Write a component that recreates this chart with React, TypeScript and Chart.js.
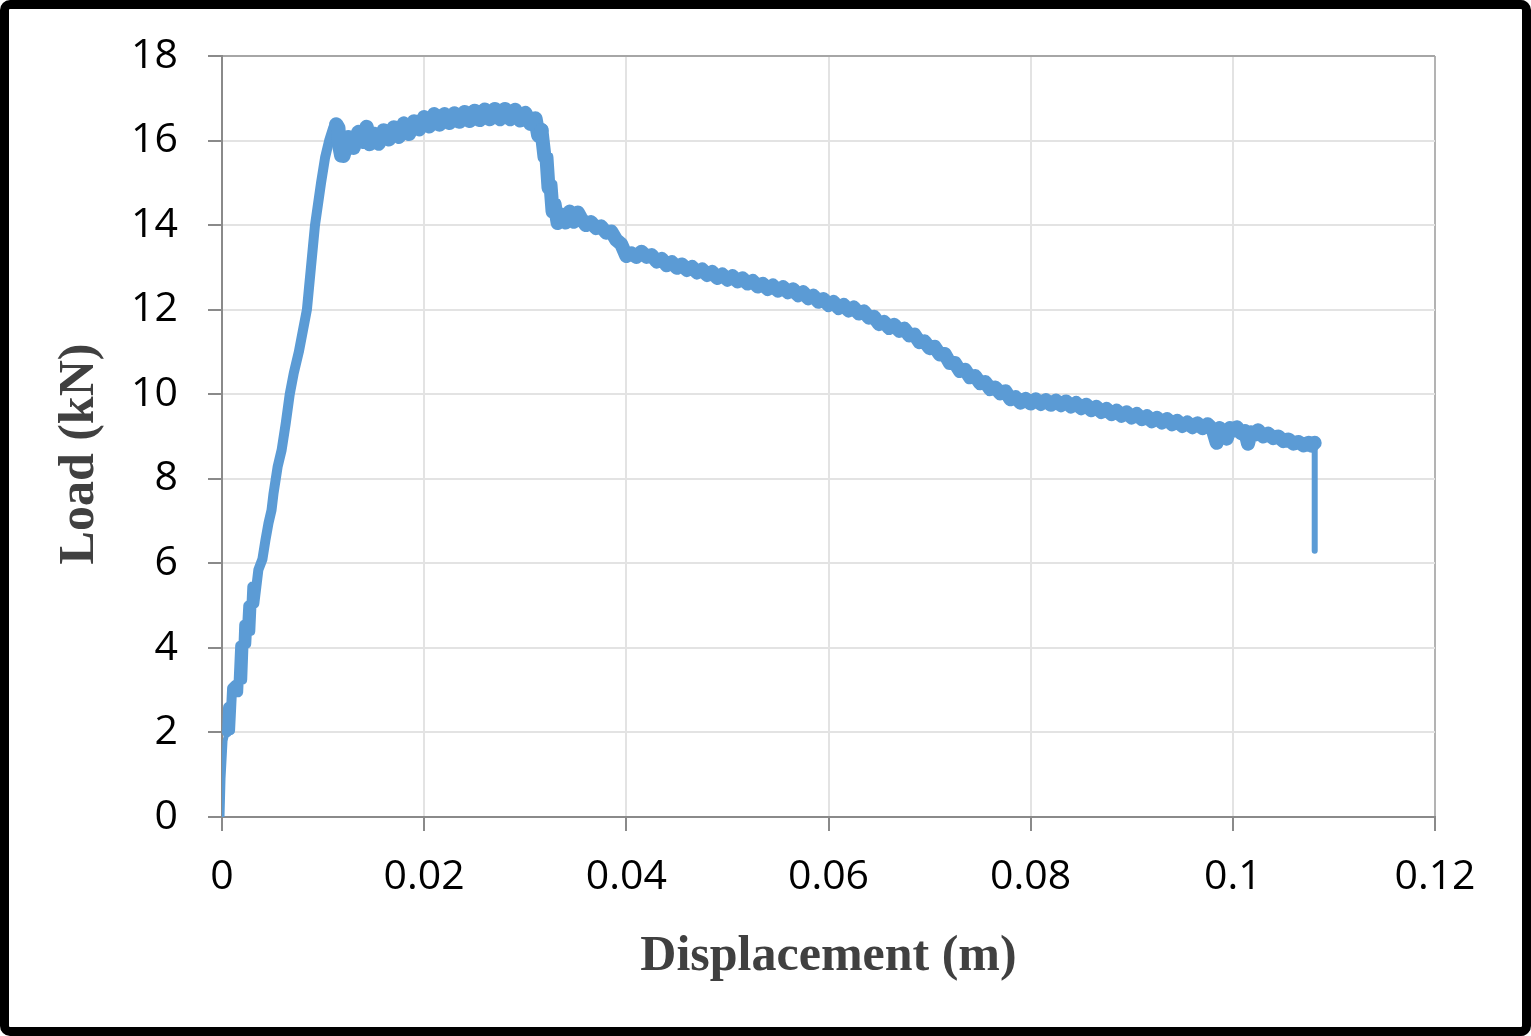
import React, { useEffect, useRef } from "react";
import { Chart, registerables } from "chart.js";

Chart.register(...registerables);

// ---- Data ----
const riseDisp = [
  0, 0.0001, 0.0003, 0.0005, 0.0006, 0.0008, 0.001, 0.0013, 0.0016, 0.0018,
  0.002, 0.0022, 0.0024, 0.0026, 0.0028, 0.003, 0.0032, 0.0036, 0.004, 0.0043,
  0.0046, 0.0049, 0.0051, 0.0055, 0.0059, 0.0063, 0.0067, 0.0071, 0.0076, 0.008,
  0.0084, 0.0086, 0.0088, 0.009, 0.0092, 0.0095, 0.0098, 0.0102, 0.0106, 0.011,
  0.0113, 0.0115, 0.0116, 0.0118,
];
const riseLoad = [
  0, 0.9, 1.8, 2.0, 2.6, 2.05, 3.05, 3.12, 2.95, 4.05,
  3.25, 4.55, 4.1, 5.0, 4.4, 5.45, 5.05, 5.85, 6.1, 6.55,
  6.95, 7.26, 7.66, 8.28, 8.68, 9.3, 10.0, 10.5, 11.0, 11.5,
  12.0, 12.5, 13.0, 13.5, 14.0, 14.5, 15.0, 15.6, 16.0, 16.3,
  16.38, 16.3, 15.9, 15.65,
];

const plateauDisp = [
  0.012, 0.0125, 0.013, 0.0135, 0.014, 0.0143, 0.0146, 0.015, 0.0155, 0.016,
  0.0165, 0.017, 0.0175, 0.018, 0.0185, 0.019, 0.0195, 0.02, 0.0205, 0.021,
  0.0215, 0.022, 0.0225, 0.023, 0.0235, 0.024, 0.0245, 0.025, 0.0255, 0.026,
  0.0265, 0.027, 0.0275, 0.028, 0.0285, 0.029, 0.0295, 0.03, 0.0305, 0.031,
  0.0313, 0.0316, 0.0319, 0.0321, 0.0323, 0.0325, 0.0327, 0.0329, 0.0332, 0.0336,
  0.034, 0.0344, 0.0348, 0.0352,
];
const plateauLoad = [
  15.64, 16.08, 15.83, 16.2, 15.97, 16.32, 15.92, 16.16, 15.93, 16.24,
  16.03, 16.31, 16.09, 16.4, 16.16, 16.45, 16.27, 16.55, 16.34, 16.62,
  16.38, 16.62, 16.42, 16.64, 16.45, 16.67, 16.47, 16.7, 16.49, 16.73,
  16.51, 16.74, 16.51, 16.74, 16.51, 16.72, 16.48, 16.65, 16.4, 16.52,
  16.12, 16.25, 15.62, 15.6, 14.88, 14.95, 14.32, 14.5, 14.05, 14.25,
  14.06, 14.32, 14.08, 14.3,
];

const softDisp = [
  0.0355, 0.036, 0.0365, 0.037, 0.0375, 0.038, 0.0385, 0.039, 0.0395, 0.04,
  0.0405, 0.041, 0.0415, 0.042, 0.0425, 0.043, 0.0435, 0.044, 0.0445, 0.045,
  0.0455, 0.046, 0.0465, 0.047, 0.0475, 0.048, 0.0485, 0.049, 0.0495, 0.05,
  0.0505, 0.051, 0.0515, 0.052, 0.0525, 0.053, 0.0535, 0.054, 0.0545, 0.055,
  0.0555, 0.056, 0.0565, 0.057, 0.0575, 0.058, 0.0585, 0.059, 0.0595, 0.06,
  0.0605, 0.061, 0.0615, 0.062, 0.0625, 0.063, 0.0635, 0.064, 0.0645, 0.065,
  0.0655, 0.066, 0.0665, 0.067, 0.0675, 0.068, 0.0685, 0.069, 0.0695, 0.07,
  0.0705, 0.071, 0.0715, 0.072, 0.0725, 0.073, 0.0735, 0.074, 0.0745, 0.075,
  0.0755, 0.076, 0.0765, 0.077, 0.0775, 0.078, 0.0785, 0.079, 0.0795, 0.08,
  0.0805, 0.081, 0.0815, 0.082, 0.0825, 0.083, 0.0835, 0.084, 0.0845, 0.085,
  0.0855, 0.086, 0.0865, 0.087, 0.0875, 0.088, 0.0885, 0.089, 0.0895, 0.09,
  0.0905, 0.091, 0.0915, 0.092, 0.0925, 0.093, 0.0935, 0.094, 0.0945, 0.095,
  0.0955, 0.096, 0.0965, 0.097, 0.0975, 0.098, 0.0984, 0.0987, 0.099, 0.0994,
  0.0997, 0.1, 0.1004, 0.1008, 0.1012, 0.1015, 0.1018, 0.1021, 0.1025, 0.103,
  0.1035, 0.104, 0.1045, 0.105, 0.1055, 0.106, 0.1065, 0.107, 0.1075, 0.1078,
  0.1081, 0.1081,
];
const softLoad = [
  14.17, 14.0, 14.07, 13.93, 13.97, 13.82, 13.85, 13.65, 13.55, 13.27,
  13.33, 13.25, 13.37, 13.25, 13.29, 13.14, 13.2, 13.05, 13.12, 12.99,
  13.07, 12.94, 13.01, 12.88, 12.95, 12.82, 12.89, 12.75, 12.83, 12.71,
  12.79, 12.67, 12.74, 12.62, 12.68, 12.55, 12.61, 12.49, 12.57, 12.45,
  12.53, 12.41, 12.48, 12.34, 12.41, 12.27, 12.33, 12.19, 12.25, 12.11,
  12.18, 12.04, 12.11, 11.98, 12.05, 11.91, 11.96, 11.81, 11.83, 11.66,
  11.71, 11.57, 11.64, 11.5, 11.55, 11.39, 11.41, 11.23, 11.25, 11.09,
  11.12, 10.94, 10.95, 10.74, 10.74, 10.55, 10.58, 10.4, 10.43, 10.26,
  10.29, 10.12, 10.16, 10.02, 10.07, 9.88, 9.93, 9.8, 9.89, 9.78,
  9.88, 9.77, 9.86, 9.75, 9.85, 9.74, 9.83, 9.71, 9.79, 9.67,
  9.75, 9.62, 9.7, 9.58, 9.65, 9.53, 9.61, 9.49, 9.57, 9.45,
  9.53, 9.41, 9.48, 9.36, 9.44, 9.33, 9.41, 9.29, 9.37, 9.25,
  9.33, 9.22, 9.31, 9.2, 9.29, 9.17, 8.85, 9.2, 9.1, 8.95,
  9.2, 9.14, 9.22, 9.08, 9.13, 8.83, 9.1, 9.04, 9.15, 9.0,
  9.07, 8.96, 9.0, 8.89, 8.93, 8.83, 8.87, 8.79, 8.85, 8.78,
  8.85, 6.3,
];

const xTickValues = [0, 0.02, 0.04, 0.06, 0.08, 0.1, 0.12];
const xTickLabels = ["0", "0.02", "0.04", "0.06", "0.08", "0.1", "0.12"];
const yTickValues = [0, 2, 4, 6, 8, 10, 12, 14, 16, 18];
const yTickLabels = ["0", "2", "4", "6", "8", "10", "12", "14", "16", "18"];

const xTitle = "Displacement (m)";
const yTitle = "Load (kN)";

const W = 1531;
const H = 1036;

export default function App() {
  const ref = useRef<HTMLCanvasElement | null>(null);

  useEffect(() => {
    const canvas = ref.current;
    if (!canvas) return;
    const disp = [...riseDisp, ...plateauDisp, ...softDisp];
    const load = [...riseLoad, ...plateauLoad, ...softLoad];
    const points = disp.map((x, i) => ({ x, y: load[i] }));
    const lastIdx = points.length - 1;

    const titleFont = {
      family: "'Liberation Serif', 'Times New Roman', serif",
      size: 50,
      weight: "bold" as const,
      lineHeight: 1.2,
    };
    const tickFont = { family: "'Open Sans', sans-serif", size: 41, lineHeight: 1.2 };

    const segWidth = (ctx: any) => {
      const x = ctx.p0.parsed.x;
      const y = ctx.p0.parsed.y;
      if (ctx.p1DataIndex === lastIdx) return 6;
      if (x < 0.0004 && y < 1.9) return 5;
      if (x < 0.0112) return 10;
      if (x < 0.0316) return 14.5;
      return 14;
    };

    const chart = new Chart(canvas, {
      type: "scatter",
      data: {
        datasets: [
          {
            data: points,
            showLine: true,
            borderColor: "#5b9bd5",
            backgroundColor: "#5b9bd5",
            borderWidth: 13,
            pointRadius: 0,
            pointHoverRadius: 0,
            borderJoinStyle: "round",
            borderCapStyle: "round",
            tension: 0,
            segment: { borderWidth: segWidth },
          },
        ],
      },
      options: {
        animation: false,
        responsive: false,
        devicePixelRatio: 1,
        layout: { padding: { left: 0, right: 96, top: 56, bottom: 0 } },
        plugins: { legend: { display: false }, tooltip: { enabled: false } },
        scales: {
          x: {
            type: "linear",
            min: 0,
            max: 0.12,
            afterBuildTicks: (s: any) => {
              s.ticks = xTickValues.map((v) => ({ value: v }));
            },
            afterFit: (s: any) => {
              s.height = H - 817;
            },
            ticks: {
              callback: (_v: any, i: number) => xTickLabels[i],
              font: tickFont,
              color: "#000000",
              padding: 22,
              maxRotation: 0,
              autoSkip: false,
            },
            grid: {
              color: (ctx: any) =>
                ctx.tick && ctx.tick.value === 0.12 ? "#b3b3b3" : "#e3e3e3",
              lineWidth: 2,
              tickLength: 14,
              tickColor: "#8a8a8a",
              tickWidth: 2,
            },
            border: { color: "#8a8a8a", width: 2 },
            title: {
              display: true,
              text: xTitle,
              font: titleFont,
              color: "#404040",
              padding: { top: 0, bottom: 49 },
            },
          },
          y: {
            type: "linear",
            min: 0,
            max: 18,
            afterBuildTicks: (s: any) => {
              s.ticks = yTickValues.map((v) => ({ value: v }));
            },
            afterFit: (s: any) => {
              s.width = 222;
            },
            ticks: {
              callback: (_v: any, i: number) => yTickLabels[i],
              font: tickFont,
              color: "#000000",
              padding: 30,
              autoSkip: false,
            },
            grid: {
              color: (ctx: any) =>
                ctx.tick && ctx.tick.value === 18 ? "#a6a6a6" : "#e3e3e3",
              lineWidth: 2,
              tickLength: 14,
              tickColor: "#8a8a8a",
              tickWidth: 2,
            },
            border: { color: "#8a8a8a", width: 2 },
            title: {
              display: true,
              text: yTitle + "  \u2009",
              font: titleFont,
              color: "#404040",
              padding: { top: 50, bottom: 0 },
            },
          },
        },
      },
    } as any);
    return () => chart.destroy();
  }, []);

  return (
    <div
      style={{
        position: "fixed",
        left: 0,
        top: 0,
        width: W,
        height: H,
        background: "#ffffff",
        overflow: "hidden",
      }}
    >
      <canvas
        ref={ref}
        width={W}
        height={H}
        style={{ position: "absolute", left: 0, top: 0, width: W, height: H, display: "block" }}
      />
      <div
        style={{
          position: "absolute",
          left: 0,
          top: 0,
          width: W,
          height: H,
          border: "9px solid #000000",
          borderRadius: 10,
          boxSizing: "border-box",
          pointerEvents: "none",
        }}
      />
    </div>
  );
}
